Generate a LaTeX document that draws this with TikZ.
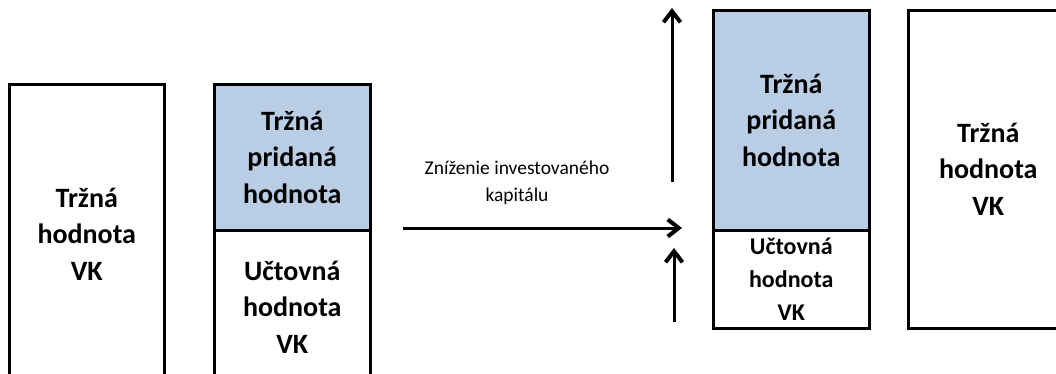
\documentclass[tikz,border=0pt]{standalone}
\usepackage{fontspec}
\setmainfont{Carlito}
\usetikzlibrary{arrows.meta}
\definecolor{paleblue}{HTML}{B9CDE5}
\begin{document}
\begin{tikzpicture}[x=1pt,y=-1pt,
  box/.style={draw=black,line width=2.5pt,rectangle,inner sep=0pt,
    anchor=north west,align=center,
    font=\bfseries\fontsize{28}{36.5}\selectfont},
  shaded/.style={box,fill=paleblue},
  smallbox/.style={box,font=\bfseries\fontsize{24}{33}\selectfont},
  flow/.style={line width=3pt,-{Straight Barb[length=11pt,width=17pt,line width=4pt]}},
  note/.style={align=center,font=\fontsize{19.5}{27}\selectfont}]
\useasboundingbox (0,0) rectangle (1056,373);
\clip (0,0) rectangle (1056,373);

% market value of equity before
\node[box,minimum width=155pt,minimum height=300pt] (mv1) at (8,83)
  {Tržná\\hodnota\\VK};

% market value added on top of book value
\node[shaded,minimum width=156pt,minimum height=146pt] (mva1) at (213,83)
  {Tržná\\pridaná\\hodnota};
\node[box,minimum width=156pt,minimum height=154pt] (bv1) at (213,229)
  {Učtovná\\hodnota\\VK};

% after the reduction of invested capital
\node[shaded,minimum width=156pt,minimum height=220pt] (mva2) at (712,9)
  {Tržná\\pridaná\\hodnota};
\node[smallbox,minimum width=156pt,minimum height=98pt] (bv2) at (712,229)
  {Učtovná\\hodnota\\VK};

\node[box,minimum width=160pt,minimum height=318pt] (mv2) at (907,9)
  {Tržná\\hodnota\\VK};

% arrows
\coordinate (hs) at (403,228);
\coordinate (he) at (682,228);
\coordinate (u1s) at (672,182);
\coordinate (u1e) at (672,8);
\coordinate (u2s) at (674,322);
\coordinate (u2e) at (674,248);
\draw[flow] (hs) -- (he);
\draw[flow] (u1s) -- (u1e);
\draw[flow] (u2s) -- (u2e);

\node[note] (lbl) at (517,183) {Zníženie investovaného\\kapitálu};
\end{tikzpicture}
\end{document}
